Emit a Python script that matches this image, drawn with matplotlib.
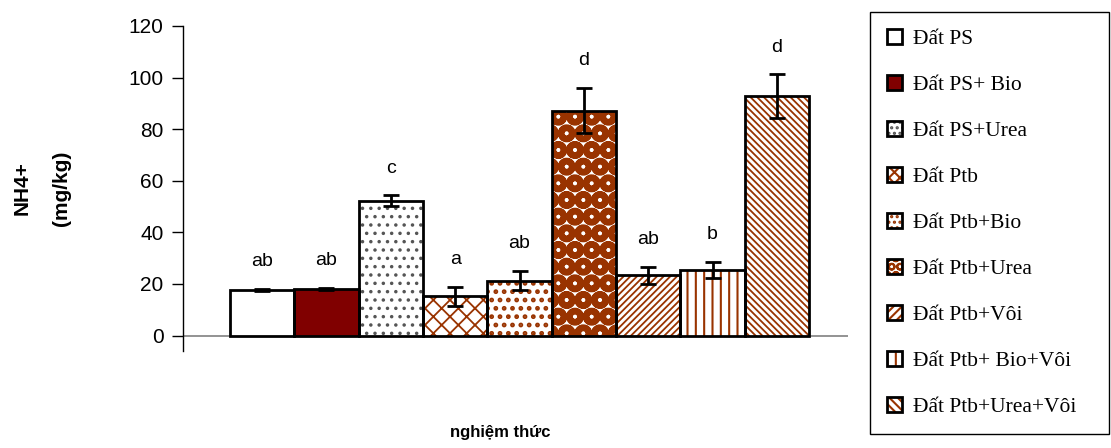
import numpy as np
import matplotlib.pyplot as plt
from matplotlib.patches import Patch
from matplotlib.legend_handler import HandlerTuple

# treatments (series) and NH4+ values in mg/kg
treatments = ['Đất PS', 'Đất PS+ Bio', 'Đất PS+Urea', 'Đất Ptb', 'Đất Ptb+Bio',
              'Đất Ptb+Urea', 'Đất Ptb+Vôi', 'Đất Ptb+ Bio+Vôi', 'Đất Ptb+Urea+Vôi']
nh4 = [17.7, 18.0, 52.3, 15.2, 21.3, 87.2, 23.4, 25.4, 92.9]
errors = [0.5, 0.5, 2.0, 3.8, 3.7, 8.8, 3.3, 3.2, 8.4]
letters = ['ab', 'ab', 'c', 'a', 'ab', 'd', 'ab', 'b', 'd']

brown = '#993300'
# face colour, hatch, hatch colour, hatch line width for each bar
faces = ['white', '#800000', 'white', 'white', 'white', 'white', 'white', 'white', 'white']
hatches = [None, None, '..', 'xx', '..', 'O', '/////', '||', '\\\\\\\\\\']
hatch_colors = ['black', 'black', '#555555', brown, brown, brown, brown, brown, brown]
hatch_widths = [1, 1, 1.3, 1.3, 2.2, 4.5, 1.3, 1.5, 1.3]
legend_hatches = [None, None, '...', 'xxx', '...', 'OO', '////', '||', '\\\\\\\\']

plt.rcParams['font.family'] = ['Liberation Sans', 'DejaVu Sans']

fig = plt.figure(figsize=(11.11, 4.48), dpi=100)
ax = fig.add_axes([0.1647, 0.2165, 0.5983, 0.7255])

x = np.arange(len(nh4))
handles = []
for i in x:
    plt.rcParams['hatch.linewidth'] = hatch_widths[i]
    # hatch layer, then outline on top
    ax.bar(x[i], nh4[i], width=1.0, color=faces[i], hatch=hatches[i],
           edgecolor=hatch_colors[i], linewidth=0, zorder=2)
    ax.bar(x[i], nh4[i], width=1.0, color='none', edgecolor='black',
           linewidth=2, zorder=3)
    ax.errorbar(x[i], nh4[i], yerr=errors[i], fmt='none', ecolor='black',
                elinewidth=2, capsize=6, capthick=2, zorder=4)
    ax.text(x[i], nh4[i] + errors[i] + 10.5, letters[i], ha='center', va='center',
            fontsize=14)
    plt.rcParams['hatch.linewidth'] = 1.5
    fill = Patch(facecolor=faces[i], hatch=legend_hatches[i],
                 edgecolor=hatch_colors[i], linewidth=0)
    outline = Patch(facecolor='none', edgecolor='black', linewidth=2)
    handles.append((fill, outline))

ax.set_xlim(-1.23, 9.1)
ax.set_ylim(-6, 120)
ax.set_yticks(range(0, 121, 20))
ax.tick_params(axis='y', labelsize=15, length=8, width=1, direction='out', pad=6)
ax.set_xticks([])
ax.axhline(0, color='#808080', linewidth=1.2, zorder=1)
for s in ['top', 'right', 'bottom']:
    ax.spines[s].set_visible(False)
ax.spines['left'].set_linewidth(1.0)

fig.text(0.02, 0.58, 'NH4+', rotation=90, ha='center', va='center',
         fontsize=15, fontweight='bold')
fig.text(0.055, 0.58, '(mg/kg)', rotation=90, ha='center', va='center',
         fontsize=15, fontweight='bold')
fig.text(0.45, 0.035, 'nghiệm thức', ha='center', va='center',
         fontsize=12, fontweight='bold')

leg = fig.legend(handles=handles, labels=treatments, loc='upper left',
                 mode='expand',
                 handler_map={tuple: HandlerTuple(ndivide=1, pad=0)},
                 bbox_to_anchor=(0.783, 0.0, 0.215, 0.973), bbox_transform=fig.transFigure,
                 prop={'family': 'Liberation Serif', 'size': 15.5},
                 fancybox=False, edgecolor='black', framealpha=1,
                 handlelength=0.7, handleheight=0.7, handletextpad=0.5,
                 labelspacing=1.2, borderpad=0.8, borderaxespad=0)
leg.get_frame().set_linewidth(1.0)

fig.savefig('out.png', dpi=100)
